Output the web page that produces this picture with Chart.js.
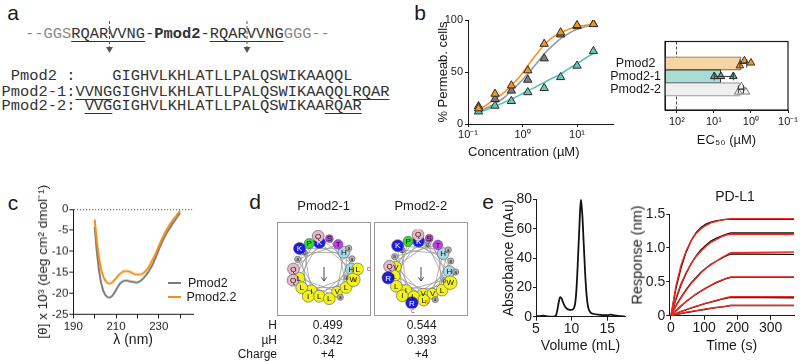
<!DOCTYPE html>
<html><head><meta charset="utf-8">
<script src="https://cdn.jsdelivr.net/npm/chart.js@4.4.1/dist/chart.umd.min.js"></script>
<style>
html,body{margin:0;padding:0;background:#fff;}
body{width:800px;height:362px;position:relative;overflow:hidden;font-family:'Liberation Sans',Arial,sans-serif;color:#1a1a1a;}
canvas{position:absolute;}
.t{position:absolute;white-space:nowrap;line-height:1;}
.seq{position:absolute;white-space:pre;font-family:'Liberation Mono','DejaVu Sans Mono',monospace;font-size:15.4px;line-height:1;color:#333;}
.u{text-decoration:underline;text-underline-offset:3px;text-decoration-thickness:1px;}
.g{color:#8a8a8a;}
.box{position:absolute;border:1px solid #9a9a9a;box-sizing:border-box;}
</style></head><body>

<div class="seq" style="left:25px;top:26.8px;"><span class="g">--GGS</span><span class="u">RQARVVNG</span>-<b>Pmod2</b>-<span class="u">RQARVVNG</span><span class="g">GGG--</span></div>
<div class="seq" style="left:1.5px;top:69.3px;"> Pmod2 :    GIGHVLKHLATLLPALQSWIKAAQQL</div>
<div class="seq" style="left:1.5px;top:84.6px;">Pmod2-1:<span class="u">VVNG</span>GIGHVLKHLATLLPALQSWIKAAQQL<span class="u">RQAR</span></div>
<div class="seq" style="left:1.5px;top:99.3px;">Pmod2-2: <span class="u">VVG</span>GIGHVLKHLATLLPALQSWIKAA<span class="u">RQAR</span></div>
<svg style="position:absolute;left:0;top:0" width="300" height="60">
 <g stroke="#555" stroke-width="1" stroke-dasharray="3,2" fill="none">
  <line x1="109.5" y1="21" x2="109.5" y2="48"/><line x1="247" y1="21" x2="247" y2="48"/>
 </g>
 <g fill="#555"><path d="M106 47 L113 47 L109.5 53 Z"/><path d="M243.5 47 L250.5 47 L247 53 Z"/></g>
</svg>

<div id="wb1" class="box" style="left:277px;top:222px;width:94px;height:94px;"></div>
<div id="wb2" class="box" style="left:374px;top:222px;width:94px;height:94px;"></div>

<script>
// ================= DATA =================
// panel b (left): % permeabilised cells vs concentration (µM)
const concUM      = [0.156, 0.3125, 0.625, 1.25, 2.5, 5, 10, 20];
const permPmod2   = [15, 29, 37, 51.5, 77, 88, 95, 96];
const permPmod2_1 = [12, 17.5, 22, 30.5, 34.5, 45, 56, 70];
const permPmod2_2 = [17, 24, 32, 42.5, 63, 86, 94, 96];
// fitted curves
const fitConc     = [0.15, 0.2, 0.3, 0.45, 0.625, 0.9, 1.25, 1.8, 2.5, 3.5, 5, 7, 10, 14, 20];
const fitPmod2    = [14, 17, 23.5, 30, 37, 46, 56, 67, 76, 83, 87.5, 91, 93.5, 95, 96];
const fitPmod2_1  = [11, 13, 17, 20.5, 24, 28, 32, 36, 40, 44, 48, 53, 58, 63, 68];
const fitPmod2_2  = [12.5, 14.5, 19, 25, 32, 40, 48, 58, 67.5, 75, 82, 87, 91, 93.5, 94.5];
const concTicks   = [0.1, 1, 10];
const concTickLbl = ['10⁻¹', '10⁰', '10¹'];

// panel b (right): EC50 (µM)
const ec50Names   = ['Pmod2', 'Pmod2-1', 'Pmod2-2'];
const ec50Bar     = [1.85, 6.5, 1.95];
const ec50Rep1    = [1.5, 9.8, 1.8];
const ec50Rep2    = [1.0, 6.5, 2.2];
const ec50Rep3    = [2.0, 3.0, 1.37];
const ec50ErrLo   = [1.3, 3.0, 1.6];
const ec50ErrHi   = [2.0, 9.8, 2.2];
const ec50Ticks   = [100, 10, 1, 0.1];
const ec50TickLbl = ['10²', '10¹', '10⁰', '10⁻¹'];
const ec50AxisMax = 210;

// panel c: CD spectra
const cdNm     = [200,201,202,203,204,205,206,207,208,209,210,211,212,213,214,215,216,217,218,219,220,
                  221,222,223,224,225,226,227,228,229,230,231,232,233,234,235,236,237,238,239,240];
const cdPmod2  = [-4.2,-10,-14.5,-17.5,-19.4,-20.4,-20.9,-21,-20.7,-20.1,-19.2,-18.3,-17.6,-17.2,-17.0,-17.0,-17.1,-17.2,-17.3,-17.4,-17.4,
                  -17.2,-16.8,-16.3,-15.7,-15.0,-14.2,-13.3,-12.1,-10.9,-9.6,-8.4,-7.3,-6.3,-5.4,-4.6,-3.8,-3.0,-2.3,-1.5,-0.9];
const cdPmod22 = [-2.4,-7.5,-11.5,-14.3,-16.0,-17.0,-17.5,-17.7,-17.5,-17.0,-16.4,-15.8,-15.3,-14.9,-14.7,-14.7,-14.8,-15.0,-15.3,-15.5,-15.5,
                  -15.5,-15.4,-15.1,-14.6,-14.0,-13.1,-12.1,-11.1,-10.0,-8.8,-7.6,-6.5,-5.5,-4.6,-3.8,-3.0,-2.3,-1.7,-1.0,-0.4];

// panel d: helical wheels (sequences shown) and properties
const wheel1Seq = 'GIGHVLKHLATLLPALQSWIKAAQQL'.split('');
const wheel2Seq = 'VVGGIGHVLKHLATLLPALQSWIKAARQAR'.split('');
const wheelNames = ['Pmod2-1', 'Pmod2-2'];
const propH      = ['0.499', '0.544'];
const propMuH    = ['0.342', '0.393'];
const propCharge = ['+4', '+4'];

// panel e (left): SEC chromatogram
const secVol = [5,5.5,6,6.3,6.6,7,7.5,7.8,8.0,8.2,8.4,8.6,8.8,9.0,9.3,9.6,10.0,10.3,10.5,10.7,10.9,11.1,11.3,11.5,11.7,11.9,12.1,12.3,12.6,13,14,15,15.5,16,16.5,17,17.5];
const secAbs = [0.4,0.3,0.8,0.5,0.2,0.1,0.1,0.8,4.5,10,13.3,12.5,9.8,7.5,5.6,4.8,4.6,5.6,9,20,40,62,80,70,50,30,15,7,3.2,2,1.3,1.1,1.4,0.9,0.5,0.3,0.1];

// panel e (right): BLI sensorgram, PD-L1
const bliTime = [0,15,30,45,60,75,90,105,120,135,150,165,180,370];
const bliObs1 = [0,0.40,0.70,0.93,1.10,1.22,1.30,1.35,1.38,1.40,1.41,1.42,1.42,1.42];
const bliObs2 = [0,0.24,0.45,0.62,0.76,0.88,0.97,1.04,1.10,1.14,1.17,1.20,1.22,1.22];
const bliObs3 = [0,0.15,0.27,0.38,0.48,0.56,0.64,0.70,0.76,0.80,0.84,0.88,0.91,0.905];
const bliObs4 = [0,0.07,0.14,0.205,0.26,0.315,0.36,0.405,0.445,0.485,0.515,0.545,0.565,0.565];
const bliObs5 = [0,0.03,0.06,0.085,0.11,0.135,0.16,0.18,0.2,0.22,0.24,0.255,0.27,0.265];
const bliObs6 = [0,0.015,0.03,0.045,0.058,0.07,0.083,0.095,0.107,0.118,0.128,0.138,0.148,0.15];
const bliFit1 = [0,0.44,0.74,0.95,1.10,1.21,1.28,1.33,1.37,1.39,1.41,1.42,1.43,1.43];
const bliFit2 = [0,0.26,0.47,0.63,0.76,0.87,0.95,1.02,1.08,1.12,1.16,1.19,1.20,1.20];
const bliFit3 = [0,0.14,0.26,0.37,0.47,0.55,0.63,0.70,0.75,0.80,0.85,0.89,0.93,0.94];
const bliFit4 = [0,0.075,0.145,0.21,0.265,0.32,0.365,0.41,0.45,0.49,0.52,0.55,0.57,0.57];
const bliFit5 = [0,0.035,0.065,0.09,0.115,0.14,0.16,0.185,0.205,0.225,0.245,0.265,0.28,0.28];
const bliFit6 = [0,0.018,0.035,0.05,0.063,0.075,0.087,0.1,0.11,0.12,0.13,0.14,0.155,0.155];

// ================= STYLE / HELPERS =================
const FONT = "'Liberation Sans', Arial, Helvetica, sans-serif";
Chart.defaults.font.family = FONT;
Chart.defaults.color = '#1a1a1a';
Chart.defaults.animation = false;
Chart.defaults.events = [];
Chart.defaults.plugins.legend.display = false;
Chart.defaults.plugins.tooltip.enabled = false;
const AX = '#1a1a1a';
const ORANGE = '#f7931e', TEAL = '#5fc2b4';

function xy(xs, ys) { return xs.map((x, i) => ({x: x, y: ys[i]})); }

function axis(o) {
  return {
    type: o.type || 'linear', min: o.min, max: o.max, reverse: !!o.reverse,
    afterFit: sc => { if (o.w !== undefined) sc.width = o.w; if (o.h !== undefined) sc.height = o.h; },
    afterBuildTicks: sc => { sc.ticks = o.ticks.map(v => ({value: v})); },
    ticks: {autoSkip: false, maxRotation: 0, minRotation: 0, padding: o.pad !== undefined ? o.pad : 2,
            font: {size: o.fs || 11}, color: AX, callback: o.cb || (v => v), crossAlign: o.cross || 'near'},
    grid: {display: true, drawOnChartArea: !!o.gridColor, color: o.gridColor || AX, tickColor: AX,
           tickLength: o.tl !== undefined ? o.tl : 4, drawTicks: o.tl !== 0, lineWidth: 1},
    border: {display: true, color: AX, width: 1, dash: o.dash || []},
    title: o.title ? {display: true, text: o.title, font: {size: o.tfs || 13}, color: AX,
                      padding: o.tpad || 0, align: o.talign || 'center'} : {display: false}
  };
}

function mk(L, T, W, H, cfg) {
  const c = document.createElement('canvas');
  c.width = W; c.height = H;
  c.style.left = L + 'px'; c.style.top = T + 'px'; c.style.width = W + 'px'; c.style.height = H + 'px';
  document.body.appendChild(c);
  cfg.options = Object.assign({responsive: false, animation: false, devicePixelRatio: 1}, cfg.options);
  return new Chart(c, cfg);
}

function txt(x, y, s, size, opt) {
  opt = opt || {};
  const d = document.createElement('div');
  d.className = 't';
  d.style.fontSize = size + 'px';
  d.style.left = x + 'px'; d.style.top = y + 'px';
  let tr = opt.align === 'right' ? 'translate(-100%,-50%)' : opt.align === 'left' ? 'translate(0,-50%)' : 'translate(-50%,-50%)';
  if (opt.rot) tr += ' rotate(-90deg)';
  d.style.transform = tr;
  if (opt.color) d.style.color = opt.color;
  d.innerHTML = s;
  document.body.appendChild(d);
  return d;
}

// ================= PANEL B (left) =================
mk(430, 10, 195, 150, {
  type: 'scatter',
  data: {datasets: [
    {data: xy(concUM, permPmod2), pointStyle: 'triangle', pointRadius: 4.8, backgroundColor: '#f7941d', borderColor: '#2a2a2a', borderWidth: 1, order: 1},
    {data: xy(concUM, permPmod2_2), pointStyle: 'triangle', pointRadius: 4.8, backgroundColor: '#7d7d7d', borderColor: '#2a2a2a', borderWidth: 1, order: 2},
    {data: xy(concUM, permPmod2_1), pointStyle: 'triangle', pointRadius: 4.8, backgroundColor: '#66c6b8', borderColor: '#2a2a2a', borderWidth: 1, order: 3},
    {data: xy(fitConc, fitPmod2), showLine: true, pointRadius: 0, borderColor: ORANGE, borderWidth: 1.6, cubicInterpolationMode: 'monotone', order: 4},
    {data: xy(fitConc, fitPmod2_2), showLine: true, pointRadius: 0, borderColor: '#9b9b9b', borderWidth: 1.6, cubicInterpolationMode: 'monotone', order: 5},
    {data: xy(fitConc, fitPmod2_1), showLine: true, pointRadius: 0, borderColor: TEAL, borderWidth: 1.6, cubicInterpolationMode: 'monotone', order: 6}
  ]},
  options: {
    layout: {padding: {top: 10, right: 12, left: 0, bottom: 0}},
    scales: {
      x: axis({type: 'logarithmic', min: 0.1, max: 45.7, h: 36, ticks: concTicks, cb: v => concTickLbl[concTicks.indexOf(v)],
               title: 'Concentration (µM)', talign: 'start', tfs: 13, tl: 3, pad: 1}),
      y: axis({min: 0, max: 100, w: 38, ticks: [0, 50, 100], title: '% Permeab. cells', tfs: 13, tpad: 5.2, tl: 3, pad: 2})
    }
  }
});

// ================= PANEL B (right) =================
const errPlugin = {
  id: 'errFrame',
  afterDatasetsDraw(chart) {
    const {ctx, chartArea: a} = chart;
    const xs = chart.scales.x, ys = chart.scales.y;
    ctx.save();
    ctx.strokeStyle = '#333'; ctx.lineWidth = 1;
    ec50Names.forEach((n, k) => {
      const y = ys.getPixelForValue(k), x1 = xs.getPixelForValue(ec50ErrLo[k]), x2 = xs.getPixelForValue(ec50ErrHi[k]);
      ctx.beginPath(); ctx.moveTo(x1, y); ctx.lineTo(x2, y);
      ctx.moveTo(x1, y - 4); ctx.lineTo(x1, y + 4); ctx.moveTo(x2, y - 4); ctx.lineTo(x2, y + 4);
      ctx.stroke();
    });
    ctx.strokeStyle = AX; ctx.lineWidth = 1.2;
    ctx.strokeRect(a.left, a.top, a.right - a.left, a.bottom - a.top);
    ctx.restore();
  }
};
const jitter = [[-0.22, 0, -0.2], [-0.05, 0, 0.2], [0.17, 0, 0.2]];
mk(600, 30, 200, 118, {
  type: 'bar',
  data: {datasets: [
    {type: 'scatter', indexAxis: 'x', data: ec50Names.map((n, k) => ({x: ec50Rep1[k], y: k + jitter[0][k]})), pointStyle: 'triangle', pointRadius: 4.4,
     backgroundColor: ['#f7941d', '#4fb8a9', '#f6f6f6'], borderColor: ['#333', '#222', '#777'], borderWidth: 1, order: 1},
    {type: 'scatter', indexAxis: 'x', data: ec50Names.map((n, k) => ({x: ec50Rep2[k], y: k + jitter[1][k]})), pointStyle: 'triangle', pointRadius: 4.4,
     backgroundColor: ['#f7941d', '#4fb8a9', '#f6f6f6'], borderColor: ['#333', '#222', '#777'], borderWidth: 1, order: 1},
    {type: 'scatter', indexAxis: 'x', data: ec50Names.map((n, k) => ({x: ec50Rep3[k], y: k + jitter[2][k]})), pointStyle: 'triangle', pointRadius: 4.4,
     backgroundColor: ['#f7941d', '#4fb8a9', '#f6f6f6'], borderColor: ['#333', '#222', '#777'], borderWidth: 1, order: 1},
    {type: 'bar', indexAxis: 'y', data: ec50Names.map((n, k) => ({x: [ec50AxisMax, ec50Bar[k]], y: k})),
     backgroundColor: ['#f5d6a2', '#a7ddd4', '#efefef'], borderColor: ['#6a6a6a', '#3a3a3a', '#9a9a9a'], borderWidth: 1.2,
     borderSkipped: false, barThickness: 13.5, order: 5}
  ]},
  options: {
    indexAxis: 'y',
    layout: {padding: {top: 9.5, right: 12, left: 0, bottom: 0}},
    scales: {
      x: axis({type: 'logarithmic', min: 0.1, max: ec50AxisMax, reverse: true, h: 38, ticks: ec50Ticks,
               cb: v => ec50TickLbl[ec50Ticks.indexOf(v)], gridColor: c => (c.tick && c.tick.value === 100) ? '#444' : 'rgba(0,0,0,0)',
               dash: [3, 2], title: 'EC₅₀ (µM)', tfs: 13, tl: 3, pad: 2}),
      y: axis({min: -0.82, max: 2.72, reverse: true, w: 65, ticks: [0, 1, 2], cb: v => ec50Names[v], fs: 12.5, tl: 0, pad: 4, cross: 'center'})
    }
  },
  plugins: [errPlugin]
});

// ================= PANEL C =================
mk(28, 170, 180, 178.5, {
  type: 'scatter',
  data: {datasets: [
    {data: xy(cdNm, cdPmod22), showLine: true, pointRadius: 0, borderColor: '#f39019', borderWidth: 2, order: 1},
    {data: xy(cdNm, cdPmod2), showLine: true, pointRadius: 0, borderColor: '#7c7c7c', borderWidth: 2, order: 2}
  ]},
  options: {
    layout: {padding: {top: 39, right: 15, left: 0, bottom: 0}},
    scales: {
      x: axis({min: 190, max: 246, h: 34.5, ticks: [190, 200, 210, 220, 230, 240], cb: v => ((v - 190) % 20 === 0 ? String(v) : ''),
               title: 'λ (nm)', tfs: 14, tl: 4, pad: 1, fs: 11.5}),
      y: axis({min: -25, max: 0, w: 45.3, ticks: [-25, -20, -15, -10, -5, 0], fs: 11.5, tl: 4, pad: 1,
               gridColor: c => (c.tick && c.tick.value === 0) ? '#555' : 'rgba(0,0,0,0)', dash: [1.2, 1.8],
               title: '[θ] x 10³ (deg cm² dmol⁻¹)', tfs: 13.5, tpad: 7.2})
    }
  }
});

// ================= PANEL D: helical wheels =================
function aaColor(a) {
  if ('ILVWFMYC'.includes(a)) return '#f2f21c';
  if ('KR'.includes(a)) return '#1c1ce8';
  if ('QN'.includes(a)) return '#e9b6c6';
  if ('ST'.includes(a)) return '#c43cf2';
  if (a === 'H') return '#a8d8e6';
  if (a === 'P') return '#32dc32';
  return '#b5b5b5';
}
const aaSize = {G: 2.8, A: 3.1, S: 3.9, T: 4.8, P: 5.0, V: 5.5, L: 5.9, I: 5.9, K: 6.0, Q: 5.9, N: 5.6, H: 5.9, R: 6.2, W: 6.8};
const wheelPlugin = {
  id: 'wheelLabels',
  afterDatasetsDraw(chart, args, opts) {
    const ctx = chart.ctx, meta = chart.getDatasetMeta(0), seq = opts.seq;
    const cx = chart.scales.x.getPixelForValue(0), cy = chart.scales.y.getPixelForValue(0);
    ctx.save();
    ctx.strokeStyle = '#333'; ctx.lineWidth = 0.9;
    ctx.beginPath(); ctx.moveTo(cx, cy - 2); ctx.lineTo(cx, cy + 12);
    ctx.moveTo(cx - 2.6, cy + 8.4); ctx.lineTo(cx, cy + 12); ctx.lineTo(cx + 2.6, cy + 8.4); ctx.stroke();
    ctx.textAlign = 'center'; ctx.textBaseline = 'middle';
    meta.data.forEach((pt, i) => {
      const a = seq[i], small = 'AG'.includes(a);
      ctx.font = (small ? '4.5px ' : '8px ') + FONT;
      ctx.fillStyle = 'KR'.includes(a) ? '#ffffff' : '#111';
      ctx.fillText(small ? a.toLowerCase() : a, pt.x, pt.y + 0.5);
    });
    ctx.font = '5px ' + FONT; ctx.fillStyle = '#e01010';
    [[0, 'N'], [seq.length - 1, 'C']].forEach(([i, s]) => {
      const pt = meta.data[i], dx = pt.x - cx, dy = pt.y - cy, d = Math.hypot(dx, dy) || 1;
      const r = (aaSize[seq[i]] || 5) + 2;
      ctx.fillText(s, pt.x + dx / d * r + 3, pt.y + dy / d * r + 1);
    });
    ctx.restore();
  }
};
function wheel(L, T, seq, rot) {
  const pts = seq.map((a, i) => {
    const ang = (rot + 100 * i) * Math.PI / 180, r = 29.5 + 0.42 * i;
    return {x: r * Math.sin(ang), y: r * Math.cos(ang)};
  });
  mk(L, T, 94, 94, {
    type: 'scatter',
    data: {datasets: [
      {data: pts, pointStyle: 'circle', pointRadius: seq.map(a => aaSize[a] || 5), backgroundColor: seq.map(aaColor),
       borderColor: '#555', borderWidth: 0.6, order: 1},
      {data: pts, showLine: true, pointRadius: 0, borderColor: '#9c9c9c', borderWidth: 0.8, order: 2}
    ]},
    options: {
      layout: {padding: 0},
      scales: {x: {display: false, min: -47, max: 47}, y: {display: false, min: -47, max: 47}},
      plugins: {wheelLabels: {seq: seq}}
    },
    plugins: [wheelPlugin]
  });
}
wheel(277, 222, wheel1Seq, 110);
wheel(374, 222, wheel2Seq, 175);

// ================= PANEL E (left): SEC =================
mk(500, 185, 135, 170, {
  type: 'scatter',
  data: {datasets: [
    {data: xy(secVol, secAbs), showLine: true, pointRadius: 0, borderColor: '#111', borderWidth: 1.8, cubicInterpolationMode: 'monotone'}
  ]},
  options: {
    layout: {padding: {top: 14.3, right: 10, left: 0, bottom: 0}},
    scales: {
      x: axis({min: 5, max: 17.5, h: 38.3, ticks: [5, 10, 15], fs: 14, tl: 4, pad: 0, title: 'Volume (mL)', tfs: 14}),
      y: axis({min: 0, max: 80, w: 36, ticks: [0, 20, 40, 60, 80], fs: 14, tl: 3, pad: 1, title: 'Absorbance (mAu)', tfs: 14, tpad: 0.9})
    }
  }
});

// ================= PANEL E (right): BLI =================
const bliObs = [bliObs1, bliObs2, bliObs3, bliObs4, bliObs5, bliObs6];
const bliFit = [bliFit1, bliFit2, bliFit3, bliFit4, bliFit5, bliFit6];
const bliSets = [];
bliFit.forEach(f => bliSets.push({data: xy(bliTime, f), showLine: true, pointRadius: 0, borderColor: '#f0281e', borderWidth: 1.4, order: 1}));
bliObs.forEach(o => bliSets.push({data: xy(bliTime, o), showLine: true, pointRadius: 0, borderColor: '#111', borderWidth: 1.3, order: 2}));
mk(627, 195, 173, 160, {
  type: 'scatter',
  data: {datasets: bliSets},
  options: {
    layout: {padding: {top: 19, right: 6, left: 0, bottom: 0}},
    scales: {
      x: axis({min: -5, max: 370, h: 39.3, ticks: [0, 100, 200, 300], fs: 14, tl: 4, pad: 0, title: 'Time (s)', tfs: 14}),
      y: axis({min: 0, max: 1.5, w: 42.3, ticks: [0, 0.5, 1, 1.5], fs: 14, tl: 3, pad: 1,
               cb: v => (v === 0 ? '0' : v.toFixed(1))})
    }
  }
});

// ================= HTML TEXT =================
txt(13, 12, 'a', 21); txt(420, 12, 'b', 21); txt(13, 202, 'c', 21); txt(255, 201, 'd', 21); txt(488, 201, 'e', 21);
txt(735, 196, 'PD-L1', 14);
txt(636.7, 255, 'Response (nm)', 14.5, {rot: true});
// CD legend
const lg = (y, col) => { const d = document.createElement('div'); d.style.cssText = `position:absolute;left:168px;top:${y - 1}px;width:13px;height:2px;background:${col}`; document.body.appendChild(d); };
lg(283, '#7c7c7c'); lg(297, '#f39019');
txt(188, 283, 'Pmod2', 12.5, {align: 'left'});
txt(186.5, 297, 'Pmod2.2', 12.5, {align: 'left'});
// wheel titles & properties
txt(323.6, 205, wheelNames[0], 13); txt(420.8, 205, wheelNames[1], 13);
txt(277, 325, 'H', 12, {align: 'right'}); txt(277, 340, 'µH', 12, {align: 'right'}); txt(277, 354, 'Charge', 12, {align: 'right'});
[327.7, 421.7].forEach((x, k) => { txt(x, 325, propH[k], 12); txt(x, 340, propMuH[k], 12); txt(x, 354, propCharge[k], 12); });
</script>
</body></html>
